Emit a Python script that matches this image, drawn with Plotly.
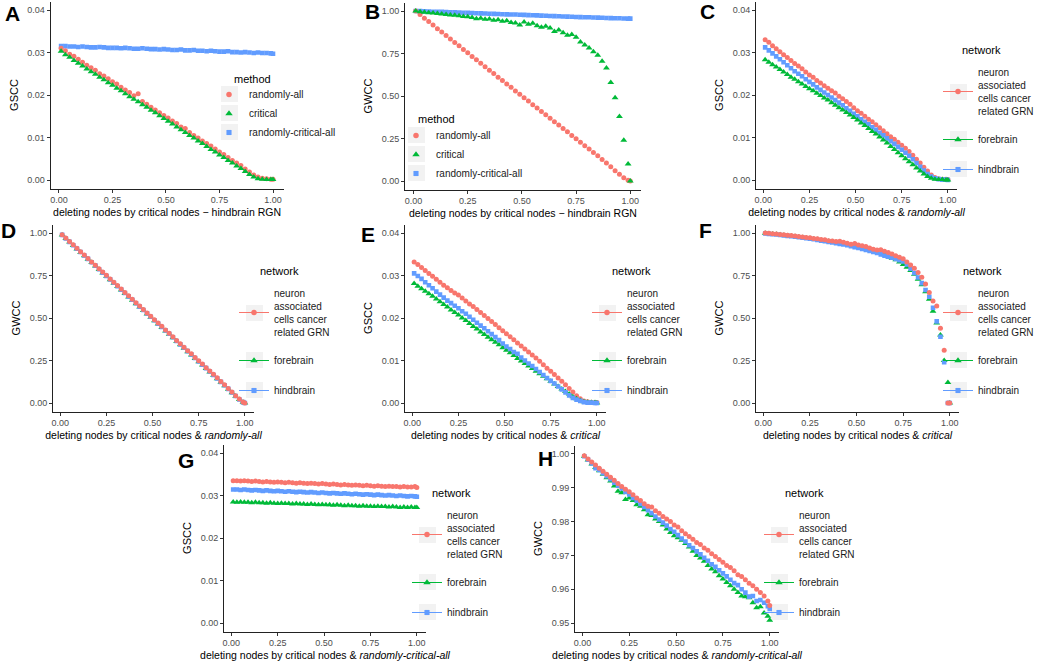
import plotly.graph_objects as go

W, H = 1038, 661
FONT = "Liberation Sans, Arial, sans-serif"

# ---------------- data ----------------
X = [0.01, 0.03, 0.05, 0.07, 0.09, 0.11, 0.13, 0.15, 0.17, 0.19,
     0.21, 0.23, 0.25, 0.27, 0.29, 0.31, 0.33, 0.35, 0.37, 0.39,
     0.41, 0.43, 0.45, 0.47, 0.49, 0.51, 0.53, 0.55, 0.57, 0.59,
     0.61, 0.63, 0.65, 0.67, 0.69, 0.71, 0.73, 0.75, 0.77, 0.79,
     0.81, 0.83, 0.85, 0.87, 0.89, 0.91, 0.93, 0.95, 0.97, 0.99, 1.00]

METHODS = ["randomly-all", "critical", "randomly-critical-all"]
NETWORKS = ["neuron<br>associated<br>cells cancer<br>related GRN", "forebrain", "hindbrain"]

X_TICKS = [0, 0.25, 0.5, 0.75, 1.0]
X_TICK_TEXT = ["0.00", "0.25", "0.50", "0.75", "1.00"]
GSCC_TICKS = [0, 0.01, 0.02, 0.03, 0.04]
GSCC_TICK_TEXT = ["0.00", "0.01", "0.02", "0.03", "0.04"]
GWCC_TICKS = [0, 0.25, 0.5, 0.75, 1.0]
GWCC_TICK_TEXT = ["0.00", "0.25", "0.50", "0.75", "1.00"]
H_TICKS = [0.95, 0.96, 0.97, 0.98, 0.99, 1.00]
H_TICK_TEXT = ["0.95", "0.96", "0.97", "0.98", "0.99", "1.00"]

# Panel A (GSCC, hindbrain RGN)
A_RANDOMLY_ALL = [0.0310, 0.0304, 0.0296, 0.0291, 0.0284, 0.0277, 0.0270, 0.0264, 0.0258, 0.0250,
                  0.0245, 0.0238, 0.0231, 0.0226, 0.0218, 0.0212, 0.0206, 0.0198, 0.0203, 0.0185,
                  0.0178, 0.0171, 0.0165, 0.0158, 0.0152, 0.0146, 0.0139, 0.0133, 0.0125, 0.0121,
                  0.0112, 0.0105, 0.0099, 0.0092, 0.0086, 0.0080, 0.0073, 0.0066, 0.0060, 0.0053,
                  0.0046, 0.0040, 0.0034, 0.0026, 0.0019, 0.0012, 0.0007, 0.0004, 0.0003, 0.0002, 0.0002]
A_CRITICAL = [0.0303, 0.0295, 0.0289, 0.0281, 0.0275, 0.0268, 0.0261, 0.0255, 0.0249, 0.0242,
              0.0236, 0.0229, 0.0223, 0.0216, 0.0210, 0.0203, 0.0196, 0.0190, 0.0184, 0.0177,
              0.0171, 0.0164, 0.0158, 0.0151, 0.0145, 0.0138, 0.0132, 0.0125, 0.0118, 0.0112,
              0.0105, 0.0099, 0.0092, 0.0086, 0.0079, 0.0072, 0.0066, 0.0059, 0.0053, 0.0046,
              0.0040, 0.0033, 0.0027, 0.0020, 0.0013, 0.0007, 0.0003, 0.0002, 0.0001, 0.0001, 0.0001]
A_RANDOMLY_CRITICAL_ALL = [0.0315, 0.0315, 0.0314, 0.0314, 0.0313, 0.0314, 0.0313, 0.0312, 0.0312, 0.0313,
                           0.0312, 0.0311, 0.0311, 0.0311, 0.0310, 0.0311, 0.0310, 0.0309, 0.0309, 0.0310,
                           0.0309, 0.0308, 0.0308, 0.0307, 0.0308, 0.0307, 0.0306, 0.0306, 0.0307, 0.0305,
                           0.0305, 0.0306, 0.0304, 0.0304, 0.0303, 0.0304, 0.0303, 0.0302, 0.0302, 0.0303,
                           0.0301, 0.0301, 0.0300, 0.0301, 0.0300, 0.0299, 0.0300, 0.0299, 0.0299, 0.0298, 0.0297]

# Panel B (GWCC, hindbrain RGN)
B_RANDOMLY_ALL = [1.000, 0.979, 0.958, 0.938, 0.917, 0.896, 0.876, 0.856, 0.835, 0.815,
                  0.795, 0.774, 0.754, 0.733, 0.713, 0.693, 0.672, 0.652, 0.632, 0.611,
                  0.591, 0.571, 0.551, 0.530, 0.510, 0.490, 0.470, 0.449, 0.429, 0.409,
                  0.389, 0.369, 0.349, 0.329, 0.309, 0.289, 0.268, 0.248, 0.228, 0.208,
                  0.188, 0.168, 0.148, 0.127, 0.106, 0.084, 0.061, 0.039, 0.019, 0.005, 0.000]
B_CRITICAL = [1.000, 0.996, 0.993, 0.990, 0.988, 0.985, 0.983, 0.980, 0.977, 0.975,
              0.972, 0.968, 0.966, 0.962, 0.955, 0.958, 0.951, 0.953, 0.945, 0.948,
              0.940, 0.943, 0.933, 0.930, 0.918, 0.935, 0.922, 0.928, 0.913, 0.905,
              0.910, 0.900, 0.880, 0.888, 0.872, 0.858, 0.862, 0.845, 0.818, 0.800,
              0.783, 0.760, 0.740, 0.705, 0.665, 0.580, 0.490, 0.380, 0.240, 0.100, 0.000]
B_RANDOMLY_CRITICAL_ALL = [1.000, 0.999, 0.998, 0.997, 0.996, 0.995, 0.995, 0.994, 0.993, 0.992,
                           0.991, 0.990, 0.989, 0.988, 0.987, 0.986, 0.985, 0.984, 0.983, 0.982,
                           0.981, 0.980, 0.979, 0.979, 0.978, 0.977, 0.976, 0.975, 0.974, 0.973,
                           0.972, 0.971, 0.970, 0.969, 0.968, 0.967, 0.966, 0.965, 0.964, 0.963,
                           0.963, 0.962, 0.961, 0.960, 0.959, 0.958, 0.957, 0.957, 0.956, 0.955, 0.955]

# Panel C (GSCC, randomly-all)
C_NEURON = [0.0330, 0.0324, 0.0316, 0.0309, 0.0302, 0.0295, 0.0288, 0.0281, 0.0274, 0.0268,
            0.0262, 0.0254, 0.0247, 0.0242, 0.0234, 0.0228, 0.0222, 0.0216, 0.0210, 0.0205,
            0.0197, 0.0191, 0.0185, 0.0178, 0.0170, 0.0163, 0.0157, 0.0150, 0.0143, 0.0137,
            0.0130, 0.0123, 0.0116, 0.0109, 0.0102, 0.0096, 0.0089, 0.0082, 0.0075, 0.0067,
            0.0058, 0.0049, 0.0040, 0.0030, 0.0021, 0.0012, 0.0006, 0.0003, 0.0002, 0.0002, 0.0001]
C_FOREBRAIN = [0.0283, 0.0277, 0.0271, 0.0266, 0.0260, 0.0254, 0.0248, 0.0242, 0.0237, 0.0231,
               0.0226, 0.0220, 0.0215, 0.0210, 0.0204, 0.0199, 0.0193, 0.0188, 0.0182, 0.0176,
               0.0170, 0.0165, 0.0159, 0.0153, 0.0147, 0.0141, 0.0134, 0.0128, 0.0121, 0.0114,
               0.0108, 0.0101, 0.0094, 0.0087, 0.0079, 0.0072, 0.0064, 0.0057, 0.0050, 0.0043,
               0.0036, 0.0028, 0.0021, 0.0014, 0.0008, 0.0004, 0.0002, 0.0001, 0.0001, 0.0000, 0.0000]
C_HINDBRAIN = [0.0312, 0.0305, 0.0298, 0.0291, 0.0284, 0.0277, 0.0270, 0.0263, 0.0256, 0.0250,
               0.0244, 0.0237, 0.0231, 0.0225, 0.0218, 0.0212, 0.0206, 0.0200, 0.0194, 0.0188,
               0.0182, 0.0176, 0.0169, 0.0163, 0.0156, 0.0150, 0.0143, 0.0137, 0.0131, 0.0124,
               0.0118, 0.0111, 0.0105, 0.0098, 0.0091, 0.0085, 0.0078, 0.0071, 0.0064, 0.0057,
               0.0049, 0.0040, 0.0031, 0.0022, 0.0014, 0.0008, 0.0004, 0.0002, 0.0001, 0.0001, 0.0000]

# Panel D (GWCC, randomly-all)
D_NEURON = [0.990, 0.970, 0.950, 0.931, 0.910, 0.890, 0.871, 0.850, 0.830, 0.811,
            0.790, 0.770, 0.751, 0.730, 0.710, 0.691, 0.670, 0.650, 0.631, 0.610,
            0.590, 0.571, 0.550, 0.530, 0.511, 0.490, 0.470, 0.451, 0.430, 0.410,
            0.390, 0.368, 0.349, 0.328, 0.308, 0.289, 0.268, 0.248, 0.229, 0.208,
            0.188, 0.169, 0.148, 0.127, 0.107, 0.085, 0.064, 0.043, 0.023, 0.006, 0.000]
D_FOREBRAIN = [0.988, 0.967, 0.947, 0.927, 0.906, 0.886, 0.866, 0.846, 0.826, 0.806,
               0.785, 0.765, 0.745, 0.725, 0.705, 0.685, 0.664, 0.644, 0.624, 0.604,
               0.584, 0.564, 0.544, 0.524, 0.504, 0.484, 0.464, 0.444, 0.424, 0.404,
               0.384, 0.362, 0.343, 0.322, 0.302, 0.283, 0.262, 0.243, 0.223, 0.203,
               0.183, 0.163, 0.143, 0.122, 0.102, 0.081, 0.060, 0.040, 0.020, 0.005, 0.000]
D_HINDBRAIN = [0.989, 0.968, 0.948, 0.928, 0.908, 0.888, 0.868, 0.848, 0.828, 0.808,
               0.787, 0.767, 0.747, 0.727, 0.707, 0.687, 0.667, 0.647, 0.627, 0.607,
               0.587, 0.567, 0.547, 0.527, 0.507, 0.487, 0.467, 0.447, 0.427, 0.407,
               0.387, 0.365, 0.345, 0.325, 0.305, 0.285, 0.265, 0.245, 0.225, 0.205,
               0.185, 0.165, 0.145, 0.124, 0.104, 0.083, 0.062, 0.041, 0.021, 0.005, 0.000]

# Panel E (GSCC, critical)
E_NEURON = [0.0332, 0.0326, 0.0319, 0.0312, 0.0305, 0.0298, 0.0291, 0.0284, 0.0277, 0.0271,
            0.0265, 0.0259, 0.0254, 0.0247, 0.0240, 0.0233, 0.0227, 0.0220, 0.0213, 0.0206,
            0.0199, 0.0192, 0.0185, 0.0177, 0.0170, 0.0163, 0.0156, 0.0149, 0.0141, 0.0134,
            0.0127, 0.0120, 0.0113, 0.0106, 0.0098, 0.0090, 0.0082, 0.0075, 0.0067, 0.0059,
            0.0051, 0.0043, 0.0034, 0.0026, 0.0017, 0.0010, 0.0005, 0.0003, 0.0002, 0.0001, 0.0001]
E_FOREBRAIN = [0.0281, 0.0275, 0.0269, 0.0263, 0.0257, 0.0251, 0.0245, 0.0238, 0.0232, 0.0226,
               0.0219, 0.0213, 0.0207, 0.0200, 0.0194, 0.0187, 0.0180, 0.0174, 0.0167, 0.0161,
               0.0155, 0.0149, 0.0143, 0.0137, 0.0130, 0.0124, 0.0118, 0.0112, 0.0105, 0.0099,
               0.0093, 0.0087, 0.0081, 0.0075, 0.0069, 0.0063, 0.0057, 0.0051, 0.0045, 0.0039,
               0.0033, 0.0027, 0.0021, 0.0015, 0.0010, 0.0006, 0.0003, 0.0002, 0.0001, 0.0001, 0.0000]
E_HINDBRAIN = [0.0305, 0.0299, 0.0292, 0.0284, 0.0277, 0.0270, 0.0262, 0.0255, 0.0248, 0.0241,
               0.0235, 0.0229, 0.0223, 0.0216, 0.0210, 0.0203, 0.0196, 0.0189, 0.0182, 0.0176,
               0.0169, 0.0162, 0.0155, 0.0148, 0.0140, 0.0133, 0.0127, 0.0120, 0.0116, 0.0107,
               0.0100, 0.0093, 0.0087, 0.0080, 0.0073, 0.0066, 0.0059, 0.0052, 0.0046, 0.0039,
               0.0032, 0.0025, 0.0018, 0.0012, 0.0008, 0.0005, 0.0002, 0.0001, 0.0001, 0.0000, 0.0000]

# Panel F (GWCC, critical)
F_NEURON = [1.000, 0.998, 0.996, 0.994, 0.991, 0.989, 0.987, 0.985, 0.982, 0.980,
            0.977, 0.974, 0.972, 0.968, 0.966, 0.962, 0.960, 0.955, 0.953, 0.950,
            0.951, 0.946, 0.940, 0.934, 0.938, 0.929, 0.925, 0.920, 0.912, 0.905,
            0.900, 0.902, 0.893, 0.885, 0.876, 0.866, 0.857, 0.848, 0.830, 0.812,
            0.792, 0.768, 0.740, 0.700, 0.650, 0.600, 0.570, 0.440, 0.310, 0.000, 0.000]
F_FOREBRAIN = [0.998, 0.996, 0.994, 0.992, 0.989, 0.987, 0.984, 0.982, 0.979, 0.977,
               0.974, 0.971, 0.968, 0.965, 0.962, 0.958, 0.955, 0.952, 0.948, 0.944,
               0.941, 0.937, 0.932, 0.928, 0.923, 0.918, 0.913, 0.907, 0.901, 0.895,
               0.888, 0.880, 0.872, 0.860, 0.852, 0.842, 0.830, 0.815, 0.798, 0.780,
               0.758, 0.728, 0.695, 0.655, 0.610, 0.540, 0.470, 0.400, 0.250, 0.120, 0.000]
F_HINDBRAIN = [0.997, 0.995, 0.993, 0.991, 0.988, 0.986, 0.983, 0.981, 0.978, 0.975,
               0.973, 0.969, 0.966, 0.963, 0.959, 0.955, 0.952, 0.948, 0.944, 0.940,
               0.936, 0.932, 0.928, 0.922, 0.917, 0.912, 0.906, 0.900, 0.894, 0.888,
               0.882, 0.874, 0.867, 0.861, 0.855, 0.848, 0.840, 0.832, 0.815, 0.790,
               0.765, 0.738, 0.705, 0.665, 0.625, 0.560, 0.480, 0.390, 0.240, 0.000, 0.000]

# Panel G (GSCC, randomly-critical-all)
G_NEURON = [0.0335, 0.0335, 0.0334, 0.0335, 0.0334, 0.0333, 0.0334, 0.0333, 0.0332, 0.0333,
            0.0332, 0.0331, 0.0332, 0.0331, 0.0330, 0.0331, 0.0330, 0.0329, 0.0330, 0.0329,
            0.0328, 0.0329, 0.0328, 0.0327, 0.0328, 0.0327, 0.0326, 0.0327, 0.0326, 0.0325,
            0.0326, 0.0325, 0.0324, 0.0325, 0.0324, 0.0323, 0.0324, 0.0323, 0.0322, 0.0323,
            0.0322, 0.0321, 0.0322, 0.0321, 0.0321, 0.0320, 0.0321, 0.0320, 0.0320, 0.0321, 0.0319]
G_FOREBRAIN = [0.0285, 0.0284, 0.0285, 0.0284, 0.0284, 0.0283, 0.0284, 0.0283, 0.0283, 0.0282,
               0.0283, 0.0282, 0.0281, 0.0282, 0.0281, 0.0281, 0.0280, 0.0281, 0.0280, 0.0280,
               0.0279, 0.0280, 0.0279, 0.0278, 0.0279, 0.0278, 0.0278, 0.0277, 0.0278, 0.0277,
               0.0276, 0.0277, 0.0276, 0.0276, 0.0275, 0.0276, 0.0275, 0.0275, 0.0274, 0.0275,
               0.0274, 0.0274, 0.0273, 0.0274, 0.0273, 0.0272, 0.0273, 0.0272, 0.0273, 0.0272, 0.0272]
G_HINDBRAIN = [0.0314, 0.0314, 0.0313, 0.0314, 0.0313, 0.0312, 0.0313, 0.0312, 0.0311, 0.0312,
               0.0311, 0.0310, 0.0311, 0.0310, 0.0309, 0.0310, 0.0309, 0.0308, 0.0309, 0.0308,
               0.0307, 0.0308, 0.0307, 0.0306, 0.0307, 0.0306, 0.0305, 0.0306, 0.0305, 0.0304,
               0.0305, 0.0304, 0.0303, 0.0304, 0.0303, 0.0302, 0.0303, 0.0302, 0.0301, 0.0302,
               0.0301, 0.0300, 0.0301, 0.0300, 0.0299, 0.0300, 0.0299, 0.0298, 0.0299, 0.0298, 0.0297]

# Panel H (GWCC, randomly-critical-all)
H_NEURON = [0.9995, 0.9985, 0.9976, 0.9967, 0.9958, 0.9949, 0.9940, 0.9931, 0.9922, 0.9913,
            0.9904, 0.9896, 0.9888, 0.9879, 0.9870, 0.9862, 0.9853, 0.9845, 0.9843, 0.9832,
            0.9825, 0.9815, 0.9808, 0.9800, 0.9790, 0.9784, 0.9773, 0.9764, 0.9756, 0.9748,
            0.9738, 0.9732, 0.9722, 0.9715, 0.9705, 0.9697, 0.9688, 0.9680, 0.9670, 0.9664,
            0.9655, 0.9643, 0.9638, 0.9628, 0.9618, 0.9610, 0.9600, 0.9590, 0.9580, 0.9565, 0.9552]
H_FOREBRAIN = [0.9993, 0.9982, 0.9970, 0.9960, 0.9950, 0.9940, 0.9930, 0.9920, 0.9905, 0.9890,
               0.9885, 0.9865, 0.9870, 0.9862, 0.9850, 0.9845, 0.9835, 0.9820, 0.9818, 0.9808,
               0.9800, 0.9790, 0.9778, 0.9768, 0.9758, 0.9752, 0.9745, 0.9735, 0.9725, 0.9712,
               0.9700, 0.9692, 0.9683, 0.9670, 0.9660, 0.9652, 0.9640, 0.9630, 0.9620, 0.9610,
               0.9600, 0.9590, 0.9580, 0.9578, 0.9575, 0.9560, 0.9545, 0.9548, 0.9530, 0.9520, 0.9508]
H_HINDBRAIN = [0.9993, 0.9983, 0.9972, 0.9958, 0.9953, 0.9943, 0.9934, 0.9925, 0.9915, 0.9906,
               0.9898, 0.9888, 0.9880, 0.9870, 0.9862, 0.9852, 0.9843, 0.9834, 0.9825, 0.9815,
               0.9806, 0.9797, 0.9788, 0.9778, 0.9770, 0.9760, 0.9750, 0.9741, 0.9730, 0.9722,
               0.9712, 0.9703, 0.9693, 0.9684, 0.9674, 0.9666, 0.9656, 0.9647, 0.9638, 0.9628,
               0.9618, 0.9612, 0.9600, 0.9590, 0.9578, 0.9580, 0.9565, 0.9568, 0.9560, 0.9550, 0.9542]

# ---------------- styling / layout ----------------
RED, GREEN, BLUE = "#F8766D", "#00BA38", "#619CFF"
COLORS = [RED, GREEN, BLUE]
SYMBOLS = ["circle", "triangle-up", "square"]
SIZES = [5, 6, 4.6]
KEY_BG = "#F2F2F2"

XT_HB = "deleting nodes by critical nodes \u2212 hindbrain RGN"
XT_RA = "deleting nodes by critical nodes & <i>randomly-all</i>"
XT_CR = "deleting nodes by critical nodes & <i>critical</i>"
XT_RCA = "deleting nodes by critical nodes & <i>randomly-critical-all</i>"

GSCC_R = [-0.002, 0.042]
GWCC_R = [-0.05, 1.05]
H_R = [0.9475, 1.0025]

# (letter, box px: left,right,top,bottom, yrange, yticks, yticktext, ytitle, xtitle,
#  series, names, legend mode, legend x px, legend top px, legend title pos, letter pos, draw order)
PANELS = [
    ("A", (50.5, 283.6, 1.5, 188.5), GSCC_R, GSCC_TICKS, GSCC_TICK_TEXT, "GSCC", XT_HB,
     [A_RANDOMLY_ALL, A_CRITICAL, A_RANDOMLY_CRITICAL_ALL], METHODS, "markers",
     209, 80, (232, 79), (12, 14), [2, 0, 1]),
    ("B", (405, 641, 2.5, 189.5), GWCC_R, GWCC_TICKS, GWCC_TICK_TEXT, "GWCC", XT_HB,
     [B_RANDOMLY_ALL, B_CRITICAL, B_RANDOMLY_CRITICAL_ALL], METHODS, "markers",
     396, 121, (416, 119), (372, 12), [2, 0, 1]),
    ("C", (756, 957, 1.5, 188.5), GSCC_R, GSCC_TICKS, GSCC_TICK_TEXT, "GSCC", XT_RA,
     [C_NEURON, C_FOREBRAIN, C_HINDBRAIN], NETWORKS, "lines+markers",
     938, 59, (960, 50), (707, 11), [0, 2, 1]),
    ("D", (53, 254, 224.5, 411.5), GWCC_R, GWCC_TICKS, GWCC_TICK_TEXT, "GWCC", XT_RA,
     [D_NEURON, D_FOREBRAIN, D_HINDBRAIN], NETWORKS, "lines+markers",
     234, 280, (258, 271), (8, 231), [1, 2, 0]),
    ("E", (405, 606, 224.5, 411.5), GSCC_R, GSCC_TICKS, GSCC_TICK_TEXT, "GSCC", XT_CR,
     [E_NEURON, E_FOREBRAIN, E_HINDBRAIN], NETWORKS, "lines+markers",
     587, 280, (610, 271), (368, 234), [0, 1, 2]),
    ("F", (756, 959, 224.5, 411.5), GWCC_R, GWCC_TICKS, GWCC_TICK_TEXT, "GWCC", XT_CR,
     [F_NEURON, F_FOREBRAIN, F_HINDBRAIN], NETWORKS, "lines+markers",
     938, 280, (961, 271), (705, 231), [1, 2, 0]),
    ("G", (224, 426, 444.5, 631.5), GSCC_R, GSCC_TICKS, GSCC_TICK_TEXT, "GSCC", XT_RCA,
     [G_NEURON, G_FOREBRAIN, G_HINDBRAIN], NETWORKS, "lines+markers",
     407, 502, (430, 493), (186, 460), [0, 1, 2]),
    ("H", (575, 779, 445.5, 631.5), H_R, H_TICKS, H_TICK_TEXT, "GWCC", XT_RCA,
     [H_NEURON, H_FOREBRAIN, H_HINDBRAIN], NETWORKS, "lines+markers",
     759, 502, (783, 493), (545, 458), [1, 2, 0]),
]

for p in PANELS:
    for s in p[7]:
        assert len(s) == len(X), (p[0], len(s))

fig = go.Figure()
layout = dict(
    width=W, height=H,
    margin=dict(l=0, r=0, t=0, b=0, autoexpand=False),
    paper_bgcolor="white", plot_bgcolor="white",
    font=dict(family=FONT, color="#000000"),
    showlegend=True,
)
annotations = []
shapes = []

for k, (letter, box, yr, yt, ytt, ytitle, xtitle, series, names, lmode,
        lx, ltop, ltitle, lpos, order) in enumerate(PANELS, start=1):
    sfx = "" if k == 1 else str(k)
    xa, ya = "x" + sfx, "y" + sfx
    legid = "legend" + sfx
    left, right, top, bottom = box
    is_method = names is METHODS

    for j in order:
        fig.add_trace(go.Scatter(
            x=X, y=series[j], mode="markers", xaxis=xa, yaxis=ya,
            marker=dict(color=COLORS[j], symbol=SYMBOLS[j], size=SIZES[j], line=dict(width=0)),
            showlegend=False, hoverinfo="x+y", name=names[j].replace("<br>", " ")))
    for j in range(3):
        fig.add_trace(go.Scatter(
            x=[None], y=[None], mode=lmode, xaxis=xa, yaxis=ya,
            marker=dict(color=COLORS[j], symbol=SYMBOLS[j], size=SIZES[j] + 0.5, line=dict(width=0)),
            line=dict(color=COLORS[j], width=1),
            name=names[j], legend=legid, legendgroup=f"{letter}{j}", showlegend=True))

    axis_common = dict(
        showline=True, linecolor="#222222", linewidth=1, showgrid=False, zeroline=False,
        ticks="outside", ticklen=3, tickwidth=1, tickcolor="#333333",
        tickfont=dict(size=9, color="#4D4D4D", family=FONT),
    )
    layout["xaxis" + sfx] = dict(
        axis_common, domain=[left / W, right / W], anchor=ya,
        range=[-0.0395, 1.0495], tickvals=X_TICKS, ticktext=X_TICK_TEXT,
        title=dict(text=xtitle, font=dict(size=10.5, color="#000000", family=FONT), standoff=4),
    )
    layout["yaxis" + sfx] = dict(
        axis_common, domain=[1 - bottom / H, 1 - top / H], anchor=xa,
        range=yr, tickvals=yt, ticktext=ytt,
        title=dict(text=ytitle, font=dict(size=11, color="#000000", family=FONT), standoff=6),
    )
    gap = 0 if is_method else 11
    layout[legid] = dict(
        x=lx / W, y=1 - ltop / H, xanchor="left", yanchor="top",
        bgcolor="rgba(0,0,0,0)", borderwidth=0,
        font=dict(size=10, family=FONT, color="#1A1A1A"),
        tracegroupgap=gap, itemsizing="trace",
        traceorder="normal" if is_method else "grouped",
    )
    # light grey legend key backgrounds (ggplot style)
    if is_method:
        key_centers = [ltop + 14, ltop + 33, ltop + 52]
    else:
        key_centers = [ltop + 33, ltop + 69 + gap, ltop + 88 + 2 * gap]
    kh = 8
    for cy in key_centers:
        shapes.append(dict(type="rect", xref="paper", yref="paper", layer="below",
                           x0=(lx + 12) / W, x1=(lx + 29) / W,
                           y0=1 - (cy + kh) / H, y1=1 - (cy - kh) / H,
                           fillcolor=KEY_BG, line=dict(width=0)))
    annotations.append(dict(
        text="method" if is_method else "network",
        x=ltitle[0] / W, y=1 - ltitle[1] / H, xref="paper", yref="paper",
        xanchor="left", yanchor="middle", showarrow=False,
        font=dict(size=11, family=FONT, color="#000000")))
    annotations.append(dict(
        text="<b>" + letter + "</b>", x=lpos[0] / W, y=1 - lpos[1] / H,
        xref="paper", yref="paper", xanchor="center", yanchor="middle", showarrow=False,
        font=dict(size=21, family=FONT, color="#000000")))

layout["annotations"] = annotations
layout["shapes"] = shapes
fig.update_layout(**layout)
fig.write_html(
    "out.html",
    config={"displayModeBar": False},
    post_script="document.body.style.margin='0';document.body.style.overflow='hidden';",
)
